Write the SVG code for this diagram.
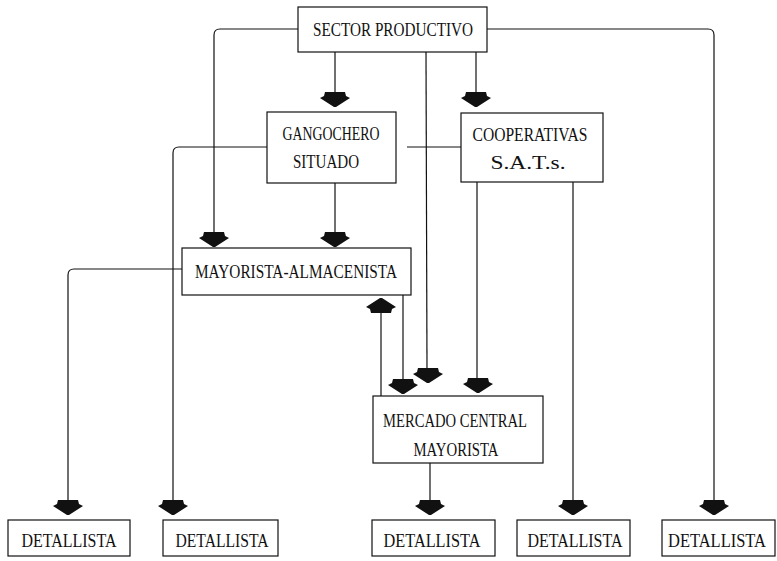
<svg xmlns="http://www.w3.org/2000/svg" xmlns:xlink="http://www.w3.org/1999/xlink" width="777" height="561" viewBox="0 0 777 561">
  <style>
    .box { fill: #fff; stroke: #111; stroke-width: 1.2; }
    .wire { fill: none; stroke: #111; stroke-width: 1.2; }
    .lbl { font-family: "Liberation Serif", "DejaVu Serif", serif; font-size: 18px; fill: #111; text-anchor: middle; }
    .head { fill: #111; }
  </style>
  <defs>
    <!-- block arrowhead, tip at origin, pointing down -->
    <path id="ah" class="head" d="M -10,-15 L 10,-15 L 11,-11 L 15,-9 L 1,0 L -1,0 L -15,-9 L -11,-11 Z"/>
  </defs>

  <rect width="777" height="561" fill="#fff"/>

  <g id="connectors">
    <!-- from SECTOR PRODUCTIVO -->
    <path class="wire" d="M 298,29 L 220,29 Q 214,29 214,35 L 214,236"/>
    <path class="wire" d="M 487,29 L 708,29 Q 714,29 714,35 L 714,500"/>
    <path class="wire" d="M 335,52 L 335,93"/>
    <path class="wire" d="M 476,52 L 476,93"/>
    <path class="wire" d="M 426,52 L 427,369"/>
    <!-- from GANGOCHERO SITUADO -->
    <path class="wire" d="M 267,147 L 179,147 Q 173,147 173,153 L 173,500"/>
    <path class="wire" d="M 335,183 L 335,236"/>
    <!-- from COOPERATIVAS -->
    <path class="wire" d="M 461,147 L 407,147"/>
    <path class="wire" d="M 477,182 L 477,379"/>
    <path class="wire" d="M 573,182 L 573,500"/>
    <!-- from MAYORISTA-ALMACENISTA -->
    <path class="wire" d="M 182,269 L 74,269 Q 68,269 68,275 L 68,500"/>
    <path class="wire" d="M 403,295 L 403,380"/>
    <!-- from MERCADO CENTRAL MAYORISTA -->
    <path class="wire" d="M 381,396 L 381,311"/>
    <path class="wire" d="M 430,463 L 430,500"/>

    <!-- arrowheads -->
    <use xlink:href="#ah" href="#ah" transform="translate(214,247)"/>
    <use xlink:href="#ah" href="#ah" transform="translate(714,515)"/>
    <use xlink:href="#ah" href="#ah" transform="translate(335,107)"/>
    <use xlink:href="#ah" href="#ah" transform="translate(476,107)"/>
    <use xlink:href="#ah" href="#ah" transform="translate(428,383)"/>
    <use xlink:href="#ah" href="#ah" transform="translate(173,515)"/>
    <use xlink:href="#ah" href="#ah" transform="translate(335,247)"/>
    <use xlink:href="#ah" href="#ah" transform="translate(478,393)"/>
    <use xlink:href="#ah" href="#ah" transform="translate(573,515)"/>
    <use xlink:href="#ah" href="#ah" transform="translate(68,515)"/>
    <use xlink:href="#ah" href="#ah" transform="translate(403,394)"/>
    <use xlink:href="#ah" href="#ah" transform="translate(381,298) rotate(180)"/>
    <use xlink:href="#ah" href="#ah" transform="translate(430,515)"/>
  </g>

  <g id="sector-productivo">
    <rect class="box" x="298" y="7" width="189" height="45"/>
    <text class="lbl" x="393" y="36" textLength="160" lengthAdjust="spacingAndGlyphs">SECTOR PRODUCTIVO</text>
  </g>

  <g id="gangochero-situado">
    <rect class="box" x="267" y="112" width="129" height="71"/>
    <text class="lbl" x="331" y="140" textLength="97" lengthAdjust="spacingAndGlyphs">GANGOCHERO</text>
    <text class="lbl" x="326" y="168" textLength="66" lengthAdjust="spacingAndGlyphs">SITUADO</text>
  </g>

  <g id="cooperativas">
    <rect class="box" x="461" y="113" width="142" height="69"/>
    <text class="lbl" x="530" y="141" textLength="115" lengthAdjust="spacingAndGlyphs">COOPERATIVAS</text>
    <text class="lbl" x="528" y="169" textLength="75" lengthAdjust="spacingAndGlyphs">S.A.T.s.</text>
  </g>

  <g id="mayorista-almacenista">
    <rect class="box" x="182" y="248" width="229" height="47"/>
    <text class="lbl" x="296" y="278" textLength="202" lengthAdjust="spacingAndGlyphs">MAYORISTA-ALMACENISTA</text>
  </g>

  <g id="mercado-central">
    <rect class="box" x="373" y="396" width="170" height="67"/>
    <text class="lbl" x="455" y="427" textLength="144" lengthAdjust="spacingAndGlyphs">MERCADO CENTRAL</text>
    <text class="lbl" x="456" y="456" textLength="85" lengthAdjust="spacingAndGlyphs">MAYORISTA</text>
  </g>

  <g id="detallista-1">
    <rect class="box" x="8" y="520" width="122" height="36"/>
    <text class="lbl" x="69" y="547" textLength="95" lengthAdjust="spacingAndGlyphs">DETALLISTA</text>
  </g>
  <g id="detallista-2">
    <rect class="box" x="163" y="520" width="115" height="36"/>
    <text class="lbl" x="222" y="547" textLength="93" lengthAdjust="spacingAndGlyphs">DETALLISTA</text>
  </g>
  <g id="detallista-3">
    <rect class="box" x="372" y="520" width="123" height="36"/>
    <text class="lbl" x="432" y="547" textLength="97" lengthAdjust="spacingAndGlyphs">DETALLISTA</text>
  </g>
  <g id="detallista-4">
    <rect class="box" x="517" y="520" width="113" height="36"/>
    <text class="lbl" x="575" y="547" textLength="95" lengthAdjust="spacingAndGlyphs">DETALLISTA</text>
  </g>
  <g id="detallista-5">
    <rect class="box" x="662" y="520" width="113" height="36"/>
    <text class="lbl" x="717" y="547" textLength="98" lengthAdjust="spacingAndGlyphs">DETALLISTA</text>
  </g>
</svg>
